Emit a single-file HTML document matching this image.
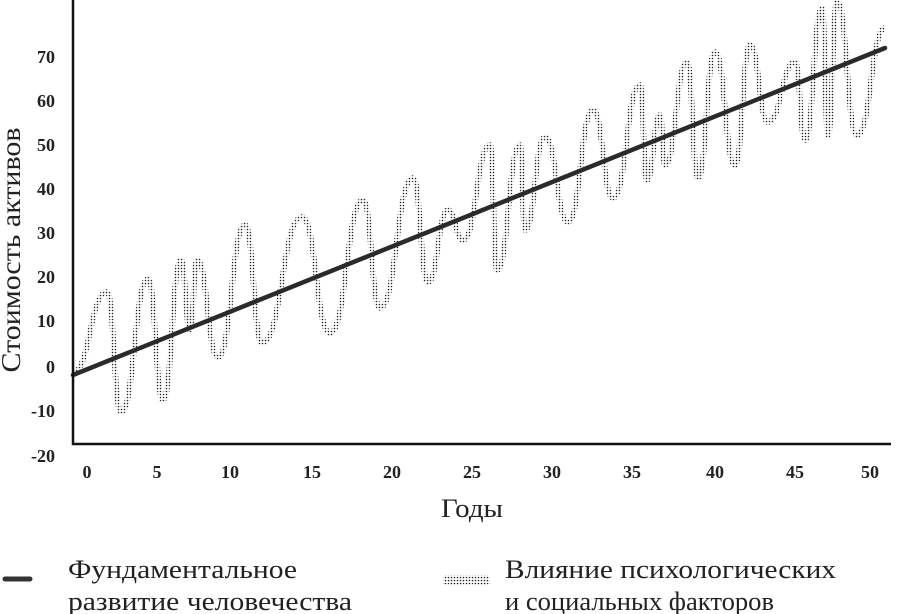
<!DOCTYPE html>
<html><head><meta charset="utf-8"><style>
body{margin:0;background:#fff;}
svg{display:block;font-family:"Liberation Serif",serif;}
</style></head><body>
<svg id="s" width="900" height="614" viewBox="0 0 900 614">
<defs>
<pattern id="dots" width="3" height="3" patternUnits="userSpaceOnUse">
<circle cx="1.5" cy="1.5" r="0.8" fill="#222"/>
</pattern>
</defs>
<path id="wave" d="" fill="none" stroke="url(#dots)" stroke-width="5.5" stroke-linejoin="round"/>
<line x1="73" y1="375" x2="885" y2="48" stroke="#2a2a2a" stroke-width="4.5" stroke-linecap="round"/>
<line x1="73" y1="0" x2="73" y2="445" stroke="#111" stroke-width="2.5"/>
<line x1="72" y1="444" x2="891" y2="444" stroke="#111" stroke-width="2.5"/>
<g font-size="18" font-weight="bold" text-anchor="end" fill="#222">
<text x="55" y="63">70</text><text x="55" y="107">60</text><text x="55" y="151">50</text>
<text x="55" y="195">40</text><text x="55" y="239">30</text><text x="55" y="283">20</text>
<text x="55" y="327">10</text><text x="55" y="373">0</text><text x="55" y="417">-10</text>
<text x="55" y="462">-20</text>
</g>
<g font-size="18" font-weight="bold" text-anchor="middle" fill="#222">
<text x="87" y="478">0</text><text x="157" y="478">5</text><text x="230" y="478">10</text>
<text x="312" y="478">15</text><text x="392" y="478">20</text><text x="472" y="478">25</text>
<text x="552" y="478">30</text><text x="632" y="478">35</text><text x="715" y="478">40</text>
<text x="795" y="478">45</text><text x="870" y="478">50</text>
</g>
<text x="472" y="517" font-size="26" text-anchor="middle" fill="#222" textLength="62" lengthAdjust="spacingAndGlyphs">Годы</text>
<text transform="translate(20,250) rotate(-90)" font-size="27" text-anchor="middle" fill="#222" textLength="245" lengthAdjust="spacingAndGlyphs">Стоимость активов</text>
<line x1="5" y1="579" x2="30" y2="579" stroke="#333" stroke-width="5" stroke-linecap="round"/>
<rect x="443" y="575" width="47" height="10" fill="url(#dots)"/>
<g font-size="26" fill="#222">
<text x="68" y="578" textLength="229" lengthAdjust="spacingAndGlyphs">Фундаментальное</text>
<text x="68" y="610" textLength="284" lengthAdjust="spacingAndGlyphs">развитие человечества</text>
<text x="505" y="578" textLength="331" lengthAdjust="spacingAndGlyphs">Влияние психологических</text>
<text x="505" y="610" textLength="269" lengthAdjust="spacingAndGlyphs">и социальных факторов</text>
</g>
</svg>
<script>
var p=[[73,372],[107,292],[121,412],[148,279],[163,400],[181,260],[190,330],[197,260],[218,357],[245,225],[262,343],[302,217],[330,333],[363,200],[380,308],[413,178],[428,282],[448,210],[463,240],[490,145],[497,270],[520,145],[525,230],[545,137],[568,222],[593,110],[613,198],[640,85],[647,180],[660,115],[665,165],[687,62],[698,178],[715,52],[735,165],[750,45],[768,122],[795,62],[805,140],[822,8],[828,135],[837,2],[857,135],[885,28]];
var d="M"+p[0][0]+","+p[0][1];
for(var i=1;i<p.length;i++){var a=p[i-1],b=p[i],h=(b[0]-a[0])/2;
d+=" C"+(a[0]+h)+","+a[1]+" "+(b[0]-h)+","+b[1]+" "+b[0]+","+b[1];}
document.getElementById("wave").setAttribute("d",d);
</script>
</body></html>
